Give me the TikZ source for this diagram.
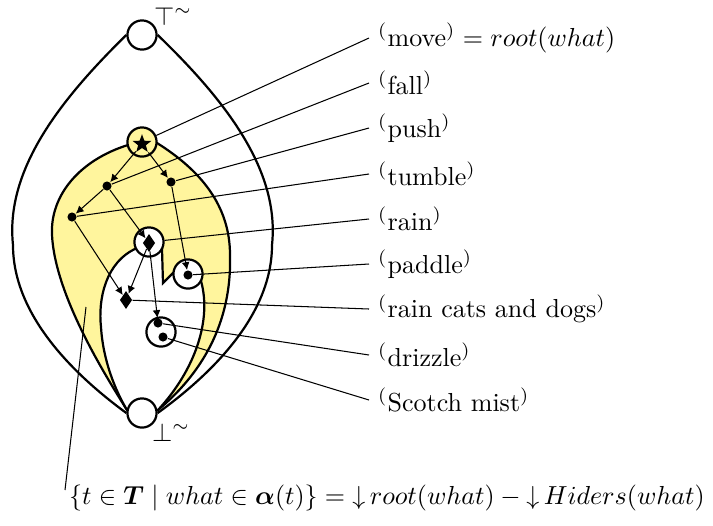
\documentclass[tikz,border=0pt]{standalone}
\usepackage{amsmath,amssymb,bm}
\usetikzlibrary{shapes.geometric,arrows.meta}
\definecolor{yel}{RGB}{255,245,157}
\begin{document}
\begin{tikzpicture}[x=0.384pt,y=-0.384pt,
  thickl/.style={line width=0.85pt},
  bigc/.style={circle,draw,line width=0.85pt,fill=white,minimum size=11.2pt,inner sep=0pt},
  dotn/.style={circle,fill=black,inner sep=0pt,minimum size=3.5pt},
  dian/.style={diamond,fill=black,inner sep=0pt,minimum width=4.8pt,minimum height=7pt},
  starn/.style={star,star points=5,star point ratio=2.4,fill=black,inner sep=0pt,minimum size=7.5pt},
  arr/.style={-{Latex[length=3pt,width=3pt]},line width=0.4pt},
  lead/.style={line width=0.4pt},
  lab/.style={anchor=west,inner sep=3.33pt}]
\useasboundingbox (0,0) rectangle (713,525);
% yellow region
\filldraw[fill=yel,thickl] (128,145) .. controls (80,160) and (50,195) .. (52,235)
  .. controls (55,295) and (105,375) .. (127,410) -- (158,410)
  .. controls (200,375) and (232,325) .. (230,255)
  .. controls (230,205) and (200,170) .. (157,143) -- cycle;
% white hole
\filldraw[fill=white,thickl] (127,410) .. controls (115,390) and (103,360) .. (101,327)
  .. controls (98,300) and (105,262) .. (137,248) -- (162,249) -- (163,283) -- (176,270)
  -- (201,281) .. controls (212,320) and (195,370) .. (158,410) -- cycle;
% circles
\node[bigc] (top) at (142,35) {};
\node[bigc] (bot) at (142,413) {};
\node[bigc,fill=yel] (movec) at (142,142) {};
\node[bigc] (rainc) at (149,242) {};
\node[bigc] (padc) at (188,274) {};
\node[bigc] (drizc) at (161,332) {};
\node (toplab) at (173,16) {$\top^{\sim}$};
\node (botlab) at (171,432) {$\bot^{\sim}$};
% lens
\draw[thickl] (top.west) .. controls (60,100) and (5,170) .. (13,245)
  .. controls (13,310) and (65,368) .. (bot.west);
\draw[thickl] (top.east) .. controls (225,100) and (280,170) .. (272,245)
  .. controls (272,310) and (220,368) .. (bot.east);
% inner nodes
\node[starn] (move) at (142,144) {};
\node[dotn] (fall) at (107,186) {};
\node[dotn] (push) at (171,182) {};
\node[dotn] (tumble) at (72,217) {};
\node[dian] (rain) at (149,243) {};
\node[dotn] (paddle) at (188,275) {};
\node[dian] (rcd) at (126,300) {};
\node[dotn] (drizzle) at (158,323) {};
\node[dotn] (scotch) at (163,337) {};
% arrows
\draw[arr] (move) -- (fall);
\draw[arr] (move) -- (push);
\draw[arr] (fall) -- (tumble);
\draw[arr] (fall) -- (rain);
\draw[arr] (push) -- (paddle);
\draw[arr] (tumble) -- (rcd);
\draw[arr] (rain) -- (rcd);
\draw[arr] (rain) -- (drizzle);
% labels
\node[lab] (lmove) at (369,38) {$^{(}$move$^{)} = root(what)$};
\node[lab] (lfall) at (369,83) {$^{(}$fall$^{)}$};
\node[lab] (lpush) at (369,128) {$^{(}$push$^{)}$};
\node[lab] (ltumble) at (369,174) {$^{(}$tumble$^{)}$};
\node[lab] (lrain) at (369,219) {$^{(}$rain$^{)}$};
\node[lab] (lpaddle) at (369,264) {$^{(}$paddle$^{)}$};
\node[lab] (lrcd) at (369,309) {$^{(}$rain cats and dogs$^{)}$};
\node[lab] (ldrizzle) at (369,355) {$^{(}$drizzle$^{)}$};
\node[lab] (lscotch) at (369,400) {$^{(}$Scotch mist$^{)}$};
\node[lab] (lset) at (60,498) {$\{t\in\boldsymbol{T}\mid what\in\boldsymbol{\alpha}(t)\} = {\downarrow}\,root(what) - {\downarrow}\,Hiders(what)$};
% leaders
\draw[lead] (movec) -- (lmove.west);
\draw[lead] (fall) -- (lfall.west);
\draw[lead] (push) -- (lpush.west);
\draw[lead] (tumble) -- (ltumble.west);
\draw[lead] (rainc) -- (lrain.west);
\draw[lead] (paddle) -- (lpaddle.west);
\draw[lead] (rcd) -- (lrcd.west);
\draw[lead] (drizzle) -- (ldrizzle.west);
\draw[lead] (scotch) -- (lscotch.west);
\coordinate (yin) at (86,307);
\draw[lead] (yin) -- ([shift={(5,-8)}]lset.west);
\end{tikzpicture}
\end{document}
